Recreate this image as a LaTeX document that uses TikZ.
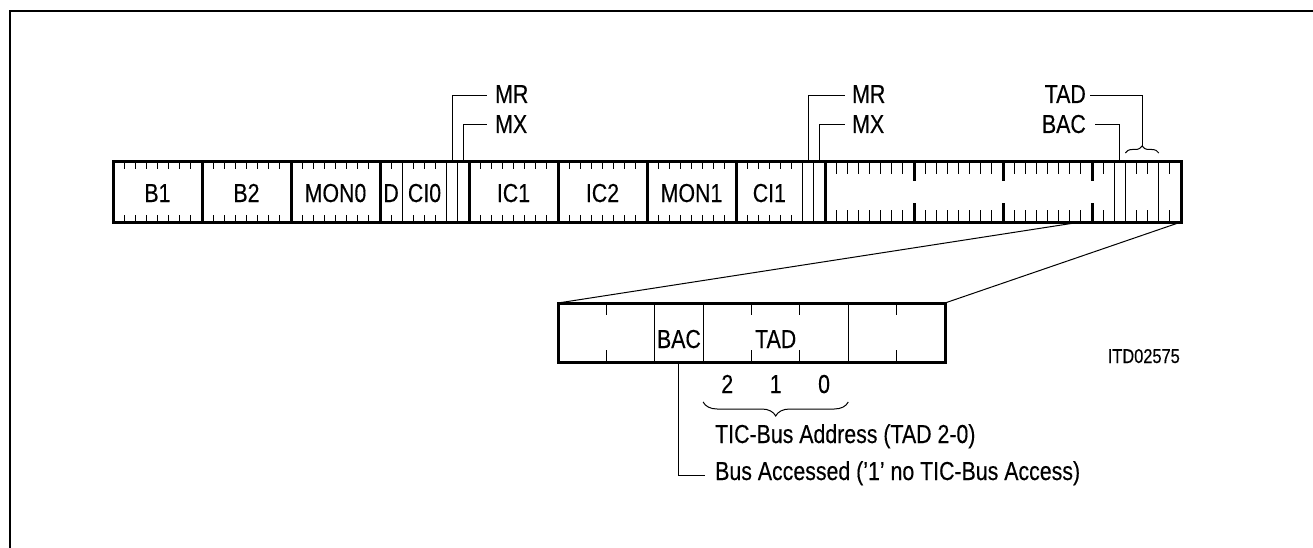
\documentclass[tikz,border=0pt]{standalone}
\usepackage{fontspec}
\setmainfont{Liberation Sans}[FakeStretch=0.82,FakeBold=0.3]
\usetikzlibrary{decorations.pathreplacing}
\begin{document}
\begin{tikzpicture}[x=1pt,y=-1pt,
  heavy/.style={line width=3pt},
  light/.style={line width=1pt},
  frameline/.style={line width=2pt},
  lbl/.style={inner sep=0pt,font=\fontsize{26}{30}\selectfont},
  small/.style={inner sep=0pt,font=\fontsize{20}{24}\selectfont},
  brc/.style={decorate,decoration={brace,amplitude=#1},line width=1pt}]
\useasboundingbox (0,0) rectangle (1313,548);
\draw[frameline] (10,548) -- (10,11) -- (1313,11);
% ---- main bar: short ticks (sections 1 and 2)
\foreach \s in {0,8,16,32,40,48} \foreach \k in {1,...,7}
  \draw[light] ({113+11.125*(\s+\k)},162) -- ++(0,7) ({113+11.125*(\s+\k)},222) -- ++(0,-7);
\foreach \i in {25,27,28,29,57,58,59,60,61}
  \draw[light] ({113+11.125*\i},162) -- ++(0,7) ({113+11.125*\i},222) -- ++(0,-7);
% ---- section 3: long ticks
\foreach \s in {64,72,80} \foreach \k in {1,...,7}
  \draw[light] ({113+11.125*(\s+\k)},162) -- ++(0,12) ({113+11.125*(\s+\k)},222) -- ++(0,-12);
\foreach \i in {89,92,93,95}
  \draw[light] ({113+11.125*\i},162) -- ++(0,12) ({113+11.125*\i},222) -- ++(0,-12);
\foreach \i in {72,80,88}
  \draw[heavy] ({113+11.125*\i},162) -- ++(0,19) ({113+11.125*\i},222) -- ++(0,-19);
% ---- full thin lines
\draw[line width=1.3pt] ({113+11.125*26},162) -- ++(0,60);
\foreach \i in {30,31,62,63,90,91,94}
  \draw[light] ({113+11.125*\i},162) -- ++(0,60);
% ---- full thick separators
\foreach \i in {8,16,24,32,40,48,56,64}
  \draw[heavy] ({113+11.125*\i},162) -- ++(0,60);
\draw[heavy] (113,162) rectangle (1181,222);
% ---- field labels
\node[lbl,anchor=base] (b1) at (157.5,202) {B1};
\node[lbl,anchor=base] (b2) at (246.5,202) {B2};
\node[lbl,anchor=base] (mon0) at (335.5,202) {MON0};
\node[lbl,anchor=base] (d) at (391.1,202) {D};
\node[lbl,anchor=base] (ci0) at (424.5,202) {CI0};
\node[lbl,anchor=base] (ic1) at (513.5,202) {IC1};
\node[lbl,anchor=base] (ic2) at (602.5,202) {IC2};
\node[lbl,anchor=base] (mon1) at (691.5,202) {MON1};
\node[lbl,anchor=base] (ci1) at (769.4,202) {CI1};
% ---- upper labels
\node[lbl,anchor=base west] (mra) at (495,103) {MR};
\node[lbl,anchor=base west] (mxa) at (495,133) {MX};
\node[lbl,anchor=base west] (mrb) at (852,103) {MR};
\node[lbl,anchor=base west] (mxb) at (852,133) {MX};
\node[lbl,anchor=base east] (tadt) at (1086,103) {TAD};
\node[lbl,anchor=base east] (bact) at (1086,133) {BAC};
\coordinate (mrabit) at ({113+11.125*30.5},162);
\coordinate (mxabit) at ({113+11.125*31.5},162);
\coordinate (mrbbit) at ({113+11.125*62.5},162);
\coordinate (mxbbit) at ({113+11.125*63.5},162);
\coordinate (bacbit) at ({113+11.125*90.5},162);
\coordinate (mraend) at (487,96);
\coordinate (mxaend) at (487,125);
\coordinate (mrbend) at (845,96);
\coordinate (mxbend) at (845,125);
\coordinate (bacend) at (1095,125);
\coordinate (tadend) at (1090,96);
\draw[light] (mrabit) |- (mraend);
\draw[light] (mxabit) |- (mxaend);
\draw[light] (mrbbit) |- (mrbend);
\draw[light] (mxbbit) |- (mxbend);
\draw[light] (bacbit) |- (bacend);
\coordinate (brl) at ({113+11.125*91},153);
\coordinate (brr) at ({113+11.125*94},153);
\coordinate (brtip) at ({113+11.125*92.5},146);
\draw[brc=7pt] (brl) -- (brr);
\draw[light] (brtip) |- (tadend);
% ---- expansion lines
\coordinate (expl) at ({113+11.125*87},222);
\coordinate (expr) at (1181,222);
\coordinate (boxtl) at (558,303);
\coordinate (boxtr) at (945,303);
\draw[light] (expl) -- (boxtl);
\draw[light] (expr) -- (boxtr);
% ---- lower box
\foreach \j in {1,4,5,7}
  \draw[light] ({558+48.375*\j},303) -- ++(0,12) ({558+48.375*\j},362) -- ++(0,-12);
\foreach \j in {2,3,6}
  \draw[light] ({558+48.375*\j},303) -- ++(0,59);
\draw[heavy] (boxtl) rectangle (945,362);
\node[lbl,anchor=base] (bacl) at ({558+48.375*2.5},348) {BAC};
\node[lbl,anchor=base] (tadl) at ({558+48.375*4.5},348) {TAD};
\node[lbl,anchor=base] (n2) at ({558+48.375*3.5},393) {2};
\node[lbl,anchor=base] (n1) at ({558+48.375*4.5},393) {1};
\node[lbl,anchor=base] (n0) at ({558+48.375*5.5},393) {0};
\draw[brc=14pt] ({558+48.375*6},402) -- ({558+48.375*3},402);
\node[lbl,anchor=base west] (tic) at (715,443) {TIC-Bus Address (TAD 2-0)};
\node[lbl,anchor=base west] (busacc) at (715,480) {Bus Accessed ('1' no TIC-Bus Access)};
\coordinate (bacbot) at ({558+48.375*2.5},362);
\coordinate (bacarm) at (705,475);
\draw[light] (bacbot) |- (bacarm);
\node[small,anchor=base east] (itd) at (1180,363) {ITD02575};
\end{tikzpicture}
\end{document}
